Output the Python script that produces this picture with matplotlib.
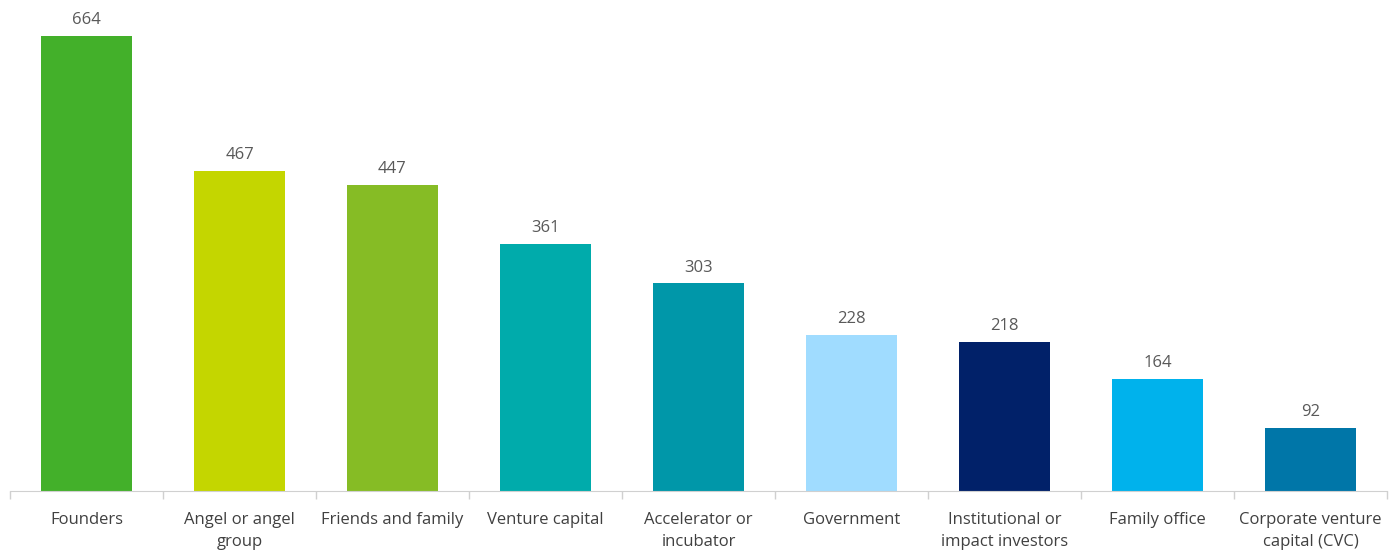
import numpy as np
import matplotlib.pyplot as plt

plt.rcParams['font.family'] = ['Open Sans', 'DejaVu Sans']

categories = ['Founders', 'Angel or angel\ngroup', 'Friends and family', 'Venture capital',
              'Accelerator or\nincubator', 'Government', 'Institutional or\nimpact investors',
              'Family office', 'Corporate venture\ncapital (CVC)']
values = [664, 467, 447, 361, 303, 228, 218, 164, 92]
colors = ['#43B02A', '#C4D600', '#86BC25', '#00ABAB', '#0097A9',
          '#A0DCFF', '#012169', '#00B2EC', '#0076A8']

fig = plt.figure(figsize=(13.97, 5.5), dpi=100)
ax = fig.add_axes([10 / 1397, 59 / 550, 1377 / 1397, 491 / 550])

x = np.arange(len(values))
bars = ax.bar(x, values, width=0.59, color=colors)
for xi, v in zip(x, values):
    ax.text(xi, v + 11, str(v), ha='center', va='bottom', fontsize=12, color='#595959')

ax.set_xlim(-0.5, len(values) - 0.5)
ax.set_ylim(0, 716.5)
ax.set_yticks([])
ax.set_xticks(x)
ax.set_xticklabels(categories, fontsize=12, color='#404040', linespacing=1.55)
ax.tick_params(axis='x', which='major', length=0, pad=15)
ax.set_xticks(np.arange(-0.5, len(values)), minor=True)
ax.tick_params(axis='x', which='minor', length=6, color='#D0D0D0', width=1)
for s in ['top', 'right', 'left']:
    ax.spines[s].set_visible(False)
ax.spines['bottom'].set_color('#D0D0D0')

fig.savefig('out.png', dpi=100)
